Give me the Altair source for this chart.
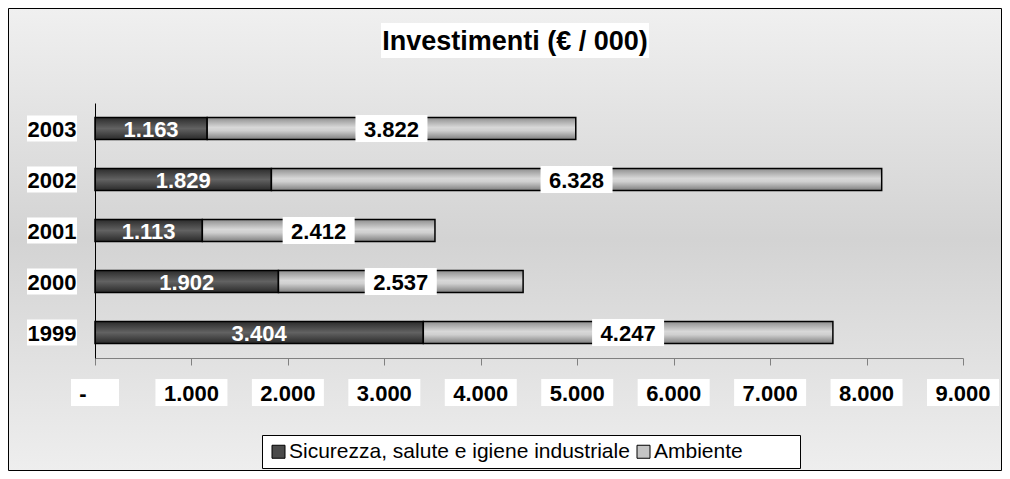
import altair as alt
import pandas as pd

# ---- data ----
years = ["1999", "2000", "2001", "2002", "2003"]
sicurezza = [3404, 1902, 1113, 1829, 1163]
ambiente = [4247, 2537, 2412, 6328, 3822]
series_names = ["Sicurezza, salute e igiene industriale", "Ambiente"]
x_ticks = [0, 1000, 2000, 3000, 4000, 5000, 6000, 7000, 8000, 9000]
x_tick_labels = ["-", "1.000", "2.000", "3.000", "4.000", "5.000",
                 "6.000", "7.000", "8.000", "9.000"]
title_text = "Investimenti (€ / 000)"


def it_fmt(v):
    return f"{v:,}".replace(",", ".")


rows = []
for yr, s, a in zip(years, sicurezza, ambiente):
    rows.append(dict(year=yr, series=series_names[0], start=0, end=s,
                     mid=s / 2, label=it_fmt(s)))
    rows.append(dict(year=yr, series=series_names[1], start=s, end=s + a,
                     mid=s + a / 2, label=it_fmt(a)))
df = pd.DataFrame(rows)
ticks_df = pd.DataFrame({"tick": x_ticks, "label": x_tick_labels})
years_df = pd.DataFrame({"year": years})
one = pd.DataFrame({"t": [title_text]})

FONT = "Liberation Sans"


def grad(stops):
    return alt.LinearGradient(
        gradient="linear", x1=0, y1=0, x2=0, y2=1,
        stops=[alt.GradientStop(offset=o, color=c) for o, c in stops])


bg_grad = grad([(0, "#f0f0f0"), (0.5, "#d3d3d3"), (1, "#eeeeee")])
dark_grad = grad([(0, "#2c2c2c"), (0.5, "#626262"), (1, "#2a2a2a")])
light_grad = grad([(0, "#8e8e8e"), (0.45, "#d8d8d8"), (0.6, "#cfcfcf"), (1, "#7e7e7e")])

x_scale = alt.Scale(domain=[0, 9000], nice=False, zero=True)
y_scale = alt.Scale(domain=list(reversed(years)), paddingInner=0.57, paddingOuter=0.285)
x_axis = alt.Axis(values=x_ticks, labels=False, grid=False, title=None,
                  domainColor="#808080", tickColor="#808080", tickSize=7,
                  domainWidth=1, tickWidth=1, zindex=1)
y_axis = alt.Axis(labels=False, ticks=False, grid=False, title=None,
                  domainColor="black", domainWidth=1, zindex=1)


def box(w, h):
    r = h / w
    return f"M-1,-{r:.4f}H1V{r:.4f}H-1Z"


# background panel with border
bg = alt.Chart(one).mark_rect(fill=bg_grad, stroke="black", strokeWidth=1).encode(
    x=alt.value(-86.5), x2=alt.value(906.5), y=alt.value(-94.5), y2=alt.value(367.5))

base = alt.Chart(df)

under = base.mark_bar().encode(
    x=alt.X("start:Q", scale=x_scale, axis=x_axis),
    x2="end:Q",
    y=alt.Y("year:O", scale=y_scale, axis=y_axis),
    color=alt.Color("series:N",
                    scale=alt.Scale(domain=series_names, range=["#4a4a4a", "#c4c4c4"]),
                    legend=alt.Legend(orient="none", legendX=173, legendY=338,
                                      direction="horizontal", title=None,
                                      symbolType="square", symbolSize=169,
                                      symbolStrokeColor="black", symbolStrokeWidth=1,
                                      symbolOpacity=1, labelFont=FONT, labelFontSize=21,
                                      labelColor="black", labelOffset=0, labelLimit=1000,
                                      columnPadding=3, padding=0)),
)

dark = base.transform_filter(alt.datum.series == series_names[0]).mark_bar(
    fill=dark_grad, stroke="black", strokeWidth=1.5).encode(
    x="start:Q", x2="end:Q", y="year:O")
light = base.transform_filter(alt.datum.series == series_names[1]).mark_bar(
    fill=light_grad, stroke="black", strokeWidth=1.5).encode(
    x="start:Q", x2="end:Q", y="year:O")

sic_text = base.transform_filter(alt.datum.series == series_names[0]).mark_text(
    color="white", font=FONT, fontSize=22, fontWeight="bold", baseline="middle", dy=1).encode(
    x="mid:Q", y="year:O", text="label:N")
amb_box = base.transform_filter(alt.datum.series == series_names[1]).mark_point(
    shape=box(72, 27), size=72 * 72, filled=True, fill="white", opacity=1, strokeWidth=0).encode(
    x="mid:Q", y="year:O")
amb_text = base.transform_filter(alt.datum.series == series_names[1]).mark_text(
    color="black", font=FONT, fontSize=22, fontWeight="bold", baseline="middle", dy=1).encode(
    x="mid:Q", y="year:O", text="label:N")

# y labels with white boxes
y_box = alt.Chart(years_df).mark_point(
    shape=box(50, 26), size=50 * 50, filled=True, fill="white", opacity=1, strokeWidth=0).encode(
    x=alt.value(-43), y="year:O")
y_text = alt.Chart(years_df).mark_text(
    color="black", font=FONT, fontSize=22, fontWeight="bold", baseline="middle", dy=1).encode(
    x=alt.value(-43), y="year:O", text="year:N")

# x labels with white boxes
tk = alt.Chart(ticks_df)
x_box = tk.transform_filter(alt.datum.tick > 0).mark_point(
    shape=box(72, 27), size=72 * 72, filled=True, fill="white", opacity=1, strokeWidth=0).encode(
    x="tick:Q", y=alt.value(289.5))
x_box0 = tk.transform_filter(alt.datum.tick == 0).mark_point(
    shape=box(48, 27), size=48 * 48, filled=True, fill="white", opacity=1, strokeWidth=0).encode(
    x="tick:Q", y=alt.value(289.5))
x_text = tk.transform_filter(alt.datum.tick > 0).mark_text(
    color="black", font=FONT, fontSize=22, fontWeight="bold", baseline="middle", dy=1).encode(
    x="tick:Q", y=alt.value(289.5), text="label:N")
x_text0 = tk.transform_filter(alt.datum.tick == 0).mark_text(
    color="black", font=FONT, fontSize=22, fontWeight="bold", baseline="middle", dx=-12, dy=1).encode(
    x="tick:Q", y=alt.value(289.5), text="label:N")

# title with white box
t_box = alt.Chart(one).mark_point(
    shape=box(268, 35), size=268 * 268, filled=True, fill="white", opacity=1, strokeWidth=0).encode(
    x=alt.value(420), y=alt.value(-62.5))
t_text = alt.Chart(one).mark_text(
    color="black", font=FONT, fontSize=27, fontWeight="bold", baseline="middle", dy=1).encode(
    x=alt.value(420), y=alt.value(-62.5), text="t:N")

# legend frame
leg_box = alt.Chart(one).mark_rect(fill="white", stroke="black", strokeWidth=1).encode(
    x=alt.value(167.5), x2=alt.value(705.5), y=alt.value(332.5), y2=alt.value(365.5))

chart = alt.layer(
    bg, leg_box, under, dark, light, sic_text, amb_box, amb_text,
    y_box, y_text, x_box, x_box0, x_text, x_text0, t_box, t_text,
).properties(
    width=868, height=255,
    autosize=alt.AutoSizeParams(type="none"),
    padding={"left": 87, "top": 95, "right": 39, "bottom": 113},
).configure_view(strokeWidth=0).configure(background="white")

chart.save("out.html", embed_options={"renderer": "svg", "actions": False})
